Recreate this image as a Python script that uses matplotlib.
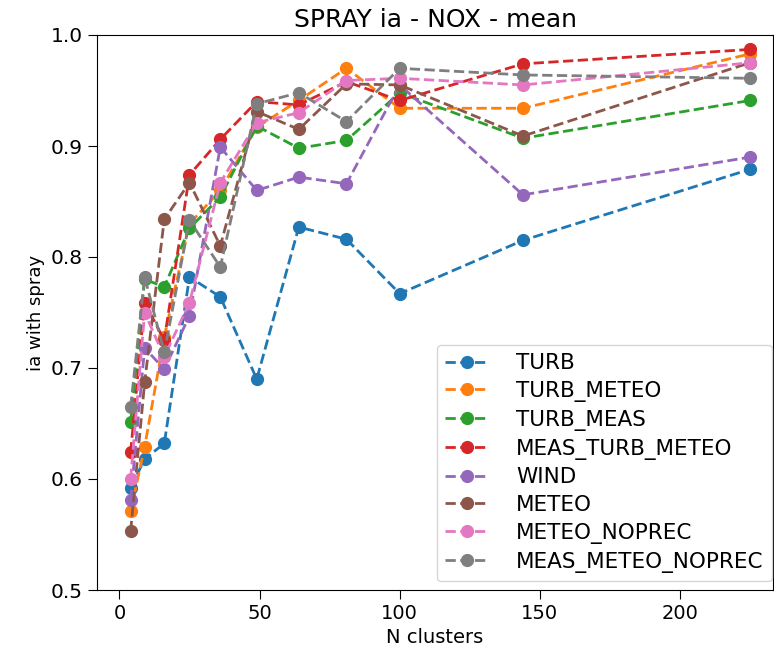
import matplotlib
matplotlib.use('Agg')
import matplotlib.pyplot as plt

n_clusters = [4, 9, 16, 25, 36, 49, 64, 81, 100, 144, 225]

turb = [0.592, 0.618, 0.632, 0.782, 0.764, 0.690, 0.827, 0.816, 0.767, 0.815, 0.879]
turb_meteo = [0.571, 0.629, 0.728, 0.830, 0.860, 0.917, 0.941, 0.970, 0.934, 0.934, 0.983]
turb_meas = [0.651, 0.780, 0.773, 0.826, 0.854, 0.918, 0.898, 0.905, 0.948, 0.907, 0.941]
meas_turb_meteo = [0.624, 0.759, 0.725, 0.874, 0.906, 0.940, 0.937, 0.958, 0.941, 0.974, 0.987]
wind = [0.581, 0.718, 0.699, 0.747, 0.899, 0.860, 0.872, 0.866, 0.955, 0.856, 0.890]
meteo = [0.553, 0.687, 0.834, 0.867, 0.810, 0.931, 0.915, 0.956, 0.955, 0.909, 0.975]
meteo_noprec = [0.600, 0.750, 0.710, 0.759, 0.867, 0.921, 0.930, 0.959, 0.961, 0.955, 0.975]
meas_meteo_noprec = [0.665, 0.782, 0.714, 0.833, 0.791, 0.938, 0.948, 0.922, 0.970, 0.964, 0.961]

series = [
    ('TURB', turb),
    ('TURB_METEO', turb_meteo),
    ('TURB_MEAS', turb_meas),
    ('MEAS_TURB_METEO', meas_turb_meteo),
    ('WIND', wind),
    ('METEO', meteo),
    ('METEO_NOPREC', meteo_noprec),
    ('MEAS_METEO_NOPREC', meas_meteo_noprec),
]

plt.rcParams['font.size'] = 14
plt.rcParams['xtick.major.size'] = 6.5
plt.rcParams['ytick.major.size'] = 6.5

fig = plt.figure(figsize=(7.74, 6.47), dpi=100)
ax = fig.add_axes([97/774, 1 - 590/647, (773 - 97)/774, (590 - 35)/647])

for name, vals in series:
    ax.plot(n_clusters, vals, '--o', label=name, markersize=8.5, linewidth=2)

ax.set_xlim(-8, 233.2)
ax.set_ylim(0.5, 1.0)
ax.tick_params(axis='y', labelsize=14.5)
ax.set_title('SPRAY ia - NOX - mean', fontsize=18)
ax.set_xlabel('N clusters', fontsize=14)
ax.set_ylabel('ia with spray', fontsize=13)
ax.legend(loc='lower right', bbox_to_anchor=(0.999, 0.016), borderaxespad=0,
          fontsize=15.5, labelspacing=0.36, handletextpad=1.3)

fig.savefig('out.png', dpi=100)
